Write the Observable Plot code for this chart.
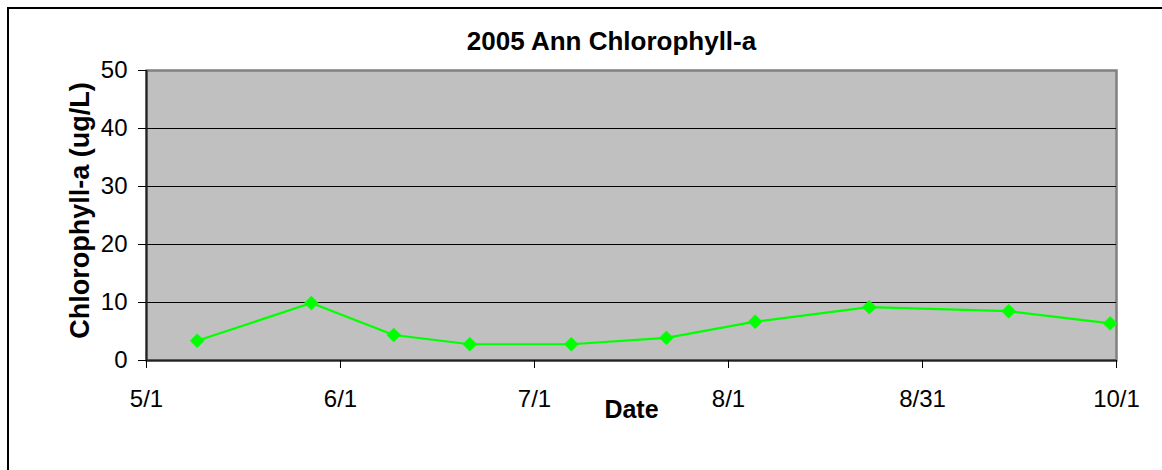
<!DOCTYPE html>
<html>
<head>
<meta charset="utf-8">
<script src="https://cdn.jsdelivr.net/npm/d3@7"></script>
<script src="https://cdn.jsdelivr.net/npm/@observablehq/plot@0.6"></script>
<style>
  html, body { margin: 0; padding: 0; background: #fff; overflow: hidden; }
  #wrap { position: relative; width: 1162px; height: 470px; overflow: hidden; }
  #border { position: absolute; left: 7px; top: 7px; width: 1200px; height: 500px; border: 2px solid #000; box-sizing: border-box; pointer-events: none; }
  svg { font-family: "Liberation Sans", Arial, sans-serif; }
</style>
</head>
<body>
<div id="wrap"><div id="border"></div></div>
<script>
const title = "2005 Ann Chlorophyll-a";
const xLabel = "Date";
const yLabel = "Chlorophyll-a (ug/L)";
const sampleDates = ["2005-05-09","2005-05-27","2005-06-09","2005-06-21","2005-07-07","2005-07-22","2005-08-05","2005-08-23","2005-09-14","2005-09-30"];
const chlorophyll = [3.4, 9.9, 4.4, 2.8, 2.8, 3.9, 6.7, 9.2, 8.5, 6.4];
const xTickLabels = ["5/1","6/1","7/1","8/1","8/31","10/1"];
const yTicks = [0, 10, 20, 30, 40, 50];
const gridValues = [10, 20, 30, 40];
const xStart = "2005-05-01";
const xEnd = "2005-10-01";

const parse = d3.utcParse("%Y-%m-%d");
const data = sampleDates.map((d, i) => ({date: parse(d), value: chlorophyll[i]}));
const x0 = parse(xStart), x1 = parse(xEnd);
const step = (x1 - x0) / (xTickLabels.length - 1);
const xTicks = xTickLabels.map((_, i) => new Date(+x0 + i * step));

const chart = Plot.plot({
  width: 1162,
  height: 470,
  marginLeft: 146,
  marginRight: 46,
  marginTop: 70,
  marginBottom: 110,
  style: {fontFamily: '"Liberation Sans", Arial, sans-serif', fontSize: "24px", background: "transparent", color: "#000"},
  x: {type: "utc", domain: [x0, x1], ticks: xTicks, tickFormat: (d, i) => xTickLabels[i], label: null},
  y: {domain: [0, 50], ticks: yTicks, label: null},
  marks: [
    Plot.frame({fill: "#c0c0c0", stroke: "#808080", strokeWidth: 2.5}),
    Plot.ruleY(gridValues, {stroke: "#000", strokeWidth: 1}),
    Plot.ruleY([0], {stroke: "#222", strokeWidth: 2}),
    Plot.ruleX([x0], {stroke: "#222", strokeWidth: 2}),
    Plot.axisY({ticks: yTicks, tickSize: 8, tickPadding: 11, fontSize: 24, label: null, stroke: "#000"}),
    Plot.axisX({ticks: xTicks, tickFormat: (d, i) => xTickLabels[i], tickSize: 8, tickPadding: 21, fontSize: 24, label: null, stroke: "#000"}),
    Plot.line(data, {x: "date", y: "value", stroke: "#00ff00", strokeWidth: 2.2}),
    Plot.dot(data, {x: "date", y: "value", symbol: "diamond2", r: 6.3, fill: "#00ff00", stroke: "#00ff00", strokeWidth: 0.5}),
    Plot.text([title], {frameAnchor: "top", dx: -20, dy: -21, lineAnchor: "bottom", fontWeight: "bold", fontSize: 26, fill: "#000"}),
    Plot.text([xLabel], {frameAnchor: "bottom", dy: 57, lineAnchor: "bottom", fontWeight: "bold", fontSize: 25, fill: "#000"}),
    Plot.text([yLabel], {frameAnchor: "left", dx: -66, dy: -5, rotate: -90, textAnchor: "middle", lineAnchor: "middle", fontWeight: "bold", fontSize: 27, fill: "#000"})
  ]
});
document.getElementById("wrap").appendChild(chart);
</script>
</body>
</html>
